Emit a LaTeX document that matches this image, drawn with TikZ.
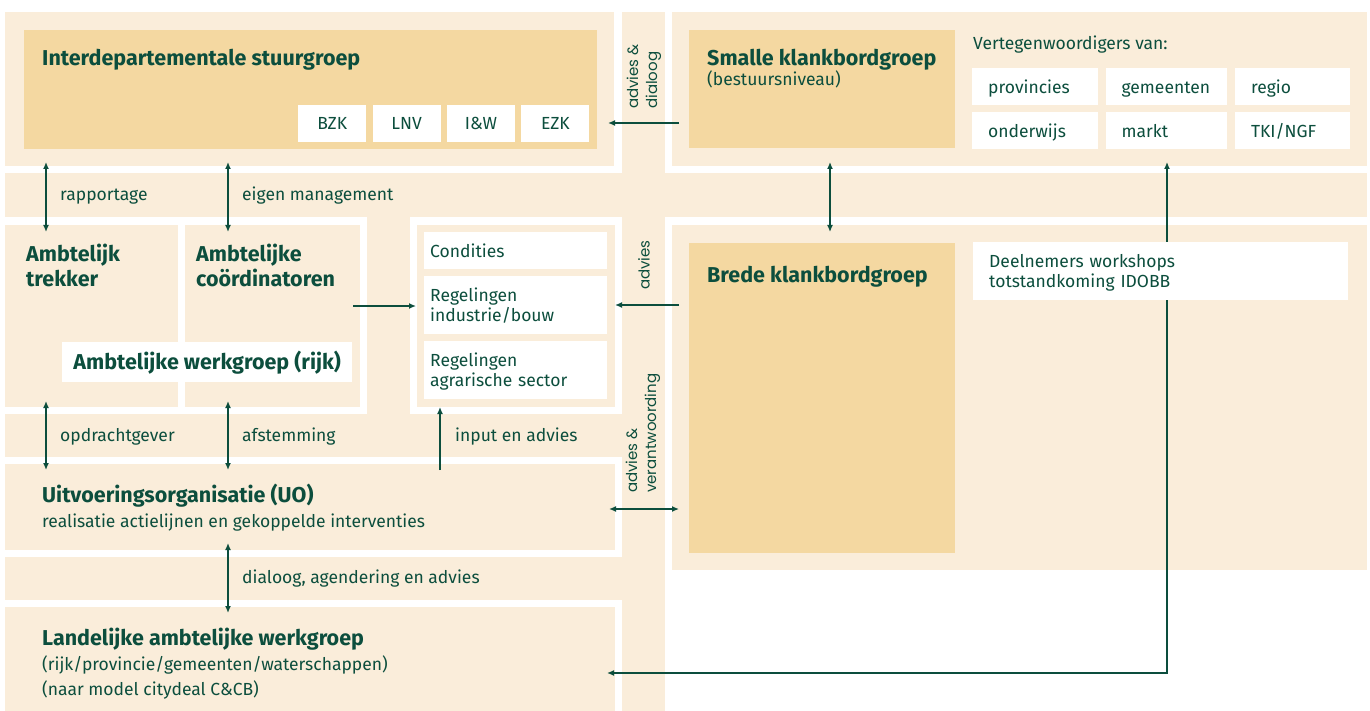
\documentclass[tikz,border=0pt]{standalone}
\usepackage{fontspec}
\setmainfont{Fira Sans}
\newfontfamily\rotfont{Poppins}
\usetikzlibrary{arrows.meta,positioning}
\definecolor{idgreen}{HTML}{0C4E3D}
\definecolor{idlight}{HTML}{FAEDDA}
\definecolor{idtan}{HTML}{F4D8A1}
\newcommand{\topstrut}{\rule{0pt}{18pt}}
\newcommand{\botstrut}{\rule[-5pt]{0pt}{5pt}}
\tikzset{
  panel/.style={fill=idlight},
  tanbox/.style={fill=idtan, anchor=north west, inner sep=0pt},
  txt/.style={text=idgreen, inner sep=0pt, anchor=base west, font=\fontsize{17.5}{20}\selectfont},
  title/.style={txt, align=left, font=\bfseries\fontsize{21.5}{25}\selectfont},
  depbox/.style={fill=white, text=idgreen, inner sep=0pt, minimum width=68pt, minimum height=37pt,
    font=\fontsize{17.5}{20}\selectfont},
  tagbox/.style={fill=white, text=idgreen, anchor=north west, inner xsep=16pt, inner ysep=0pt,
    minimum height=37pt, align=left, font=\fontsize{17.5}{20}\selectfont,
    execute at begin node=\topstrut, execute at end node=\botstrut},
  regbox/.style={tagbox, inner xsep=6pt, text width=171pt},
  rotlbl/.style={text=idgreen, inner sep=0pt, rotate=90, anchor=west, align=left,
    font=\rotfont\fontsize{15}{19}\selectfont},
  link/.style={draw=idgreen, line width=1.3pt},
}
\begin{document}
\begin{tikzpicture}[x=1pt, y=-1pt, >={Latex[length=7pt,width=6pt]}]
\useasboundingbox (0,0) rectangle (1370,711);

% light panels and strips
\fill[panel] (5,12) rectangle (614,166);
\fill[panel] (622,12) rectangle (665,711);
\fill[panel] (672,12) rectangle (1367,166);
\fill[panel] (5,173) rectangle (1367,217);
\fill[panel] (5,225) rectangle (178,407);
\fill[panel] (185,225) rectangle (360,407);
\fill[panel] (367,217) rectangle (410,414);
\fill[panel] (417,225) rectangle (615,407);
\fill[panel] (672,225) rectangle (1367,570);
\fill[panel] (5,414) rectangle (622,457);
\fill[panel] (5,464) rectangle (615,550);
\fill[panel] (5,557) rectangle (622,600);
\fill[panel] (5,607) rectangle (615,711);

% tan boxes
\node[tanbox, minimum width=573pt, minimum height=119pt] (stuur) at (24,30) {};
\node[tanbox, minimum width=266pt, minimum height=118pt] (smalle) at (689,30) {};
\node[tanbox, minimum width=266pt, minimum height=310pt] (brede) at (689,243) {};

% connectors
\path (46,162) coordinate (rap-a) (46,232) coordinate (rap-b)
      (228,162) coordinate (eig-a) (228,232) coordinate (eig-b)
      (830,162) coordinate (kb-a) (830,232) coordinate (kb-b)
      (1167,162) coordinate (deel-a) (1167,673) coordinate (deel-bend) (607,673) coordinate (land-in)
      (679,123) coordinate (dia-a) (608,123) coordinate (dia-b)
      (353,306) coordinate (coo-out) (416,306) coordinate (reg-in)
      (679,305) coordinate (adv-a) (615,305) coordinate (adv-b)
      (609,509) coordinate (ver-a) (679,509) coordinate (ver-b)
      (46,401) coordinate (opd-a) (46,470) coordinate (opd-b)
      (228,401) coordinate (afs-a) (228,470) coordinate (afs-b)
      (440,470) coordinate (inp-a) (440,407) coordinate (inp-b)
      (228,543) coordinate (dlg-a) (228,613) coordinate (dlg-b);
\draw[link, <->] (rap-a) -- (rap-b);
\draw[link, <->] (eig-a) -- (eig-b);
\draw[link, <->] (kb-a) -- (kb-b);
\draw[link, <->] (deel-a) -- (deel-bend) -- (land-in);
\draw[link, ->] (dia-a) -- (dia-b);
\draw[link, ->] (coo-out) -- (reg-in);
\draw[link, ->] (adv-a) -- (adv-b);
\draw[link, <->] (ver-a) -- (ver-b);
\draw[link, <->] (opd-a) -- (opd-b);
\draw[link, <->] (afs-a) -- (afs-b);
\draw[link, ->] (inp-a) -- (inp-b);
\draw[link, <->] (dlg-a) -- (dlg-b);

% white boxes
\node[depbox, anchor=north west] (bzk) at (298,105) {BZK};
\node[depbox, right=6pt of bzk] (lnv) {LNV};
\node[depbox, right=6pt of lnv] (iw) {I\&W};
\node[depbox, right=6pt of iw] (ezk) {EZK};
\node[tagbox, text width=94pt] (prov) at (972,68) {provincies};
\node[tagbox, text width=89pt, anchor=west, right=7pt of prov] (gem) {gemeenten};
\node[tagbox, text width=83pt, anchor=west, right=8pt of gem] (regio) {regio};
\node[tagbox, text width=94pt] (ondw) at (972,112) {onderwijs};
\node[tagbox, text width=89pt, anchor=west, right=7pt of ondw] (markt) {markt};
\node[tagbox, text width=83pt, anchor=west, right=8pt of markt] (tki) {TKI/NGF};
\node[tagbox, text width=343pt, minimum height=58pt] (deel) at (973,242)
  {Deelnemers workshops\\totstandkoming IDOBB};
\node[regbox] (cond) at (424,232) {Condities};
\node[regbox, minimum height=58pt] (regind) at (424,276) {Regelingen\\industrie/bouw};
\node[regbox, minimum height=58pt] (regagr) at (424,341) {Regelingen\\agrarische sector};
\node[fill=white, text=idgreen, anchor=north west, inner sep=0pt, minimum width=290pt,
  minimum height=40pt, font=\bfseries\fontsize{21.5}{25}\selectfont] (werk) at (62,342)
  {Ambtelijke werkgroep (rijk)};

% texts
\node[title] (stuur-t) at (42,66) {Interdepartementale stuurgroep};
\node[title] (smalle-t) at (707,66) {Smalle klankbordgroep};
\node[txt] (smalle-s) at (707,86) {(bestuursniveau)};
\node[txt] (vert) at (973,50) {Vertegenwoordigers van:};
\node[title] (brede-t) at (707,283) {Brede klankbordgroep};
\node[title] (trek-t) at (26,287) {Ambtelijk\\trekker};
\node[title] (coo-t) at (196,287) {Ambtelijke\\coördinatoren};
\node[title] (uo-t) at (42,502) {Uitvoeringsorganisatie (UO)};
\node[txt] (uo-s) at (42,527) {realisatie actielijnen en gekoppelde interventies};
\node[title] (land-t) at (42,645) {Landelijke ambtelijke werkgroep};
\node[txt] (land-s) at (42,670) {(rijk/provincie/gemeenten/waterschappen)};
\node[txt] (land-m) at (42,695) {(naar model citydeal C\&CB)};

% connector labels
\node[txt] (rap-l) at (60,201) {rapportage};
\node[txt] (eig-l) at (242,201) {eigen management};
\node[txt] (opd-l) at (60,441) {opdrachtgever};
\node[txt] (afs-l) at (242,441) {afstemming};
\node[txt] (inp-l) at (455,441) {input en advies};
\node[txt] (dlg-l) at (242,583) {dialoog, agendering en advies};
\node[rotlbl] (dia-l) at (644,109) {advies \&\\dialoog};
\node[rotlbl] (adv-l) at (644,290) {advies};
\node[rotlbl] (ver-l) at (643,493) {advies \&\\verantwoording};
\end{tikzpicture}
\end{document}
